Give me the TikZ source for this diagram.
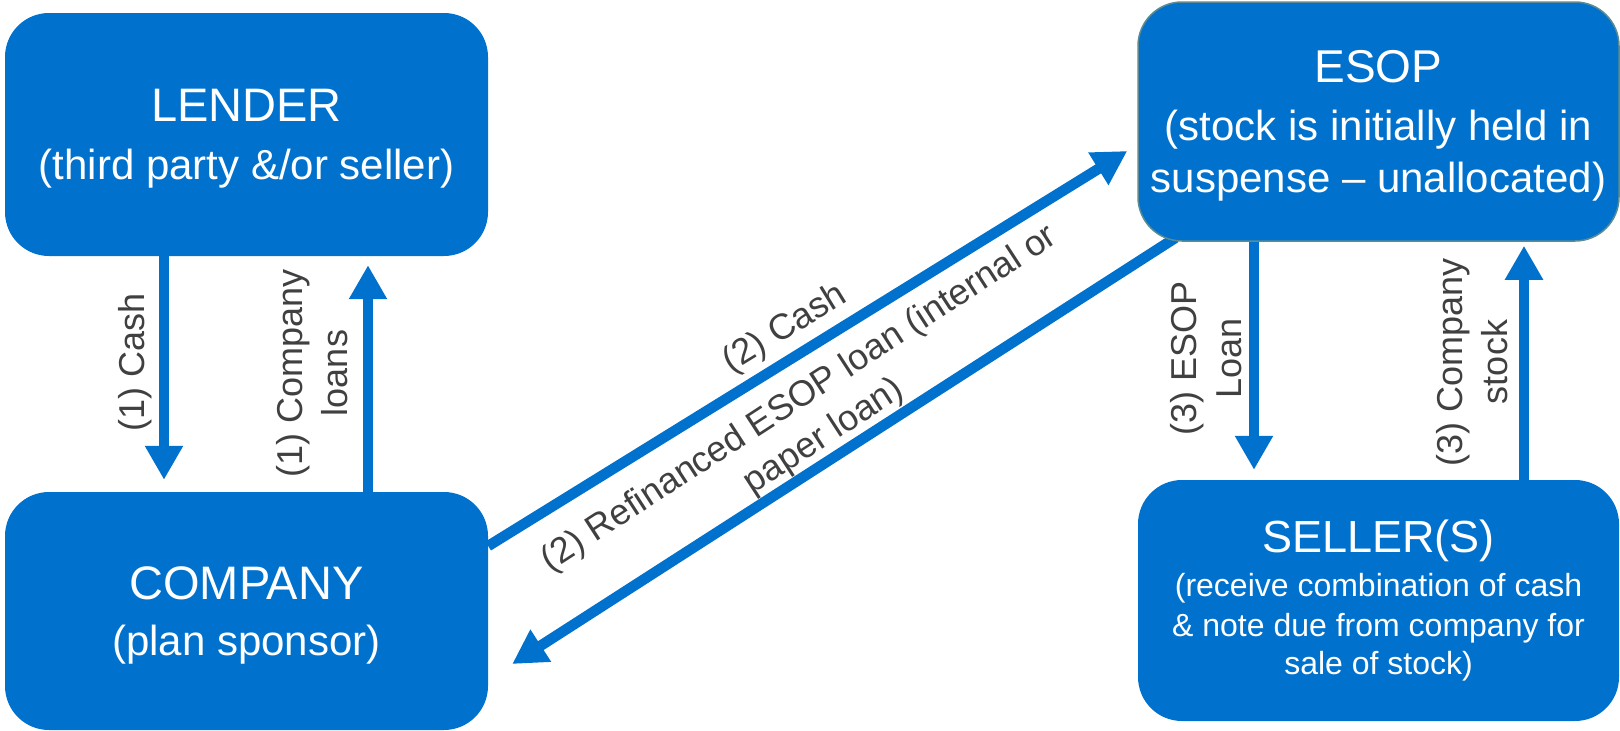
\documentclass[tikz,border=0pt]{standalone}
\usepackage{fontspec}
\setmainfont{Liberation Sans}
\usetikzlibrary{arrows.meta,backgrounds}
\definecolor{esopblue}{RGB}{0,114,206}
\definecolor{labelgray}{RGB}{64,64,64}
\definecolor{esopedge}{RGB}{90,140,145}
\begin{document}
\begin{tikzpicture}[x=1pt,y=-1pt,
  box/.style={rectangle, rounded corners=44pt, fill=esopblue, draw=none, text=white, align=center, inner sep=0pt},
  flow/.style={draw=esopblue, line width=10.5pt, -{Triangle[width=36pt,length=34pt]}},
  lab/.style={text=labelgray, font=\fontsize{36}{45}\selectfont, align=center, inner sep=0pt},
]
\useasboundingbox (0,0) rectangle (1620,731);

\node[box, text depth=0pt, minimum width=483pt, minimum height=243pt, font=\fontsize{42}{52}\selectfont]
  (lender) at (246.5,134.5) {{\fontsize{47}{52}\selectfont LENDER}\\[6pt](third party \&/or seller)};
\node[box, text depth=0pt, minimum width=483pt, minimum height=238pt, font=\fontsize{42}{52}\selectfont]
  (company) at (246.5,611) {{\fontsize{47}{52}\selectfont COMPANY}\\[4pt](plan sponsor)};
\node[box, text depth=0pt, draw=esopedge, line width=1.5pt, minimum width=481pt, minimum height=239pt, font=\fontsize{42}{52}\selectfont]
  (esop) at (1378.5,121.5) {{\fontsize{46}{52}\selectfont ESOP}\\[6pt](stock is initially held in\\suspense – unallocated)};
\node[box, minimum width=481pt, minimum height=241pt, font=\fontsize{32}{39}\selectfont]
  (seller) at (1378.5,600.5) {{\fontsize{45}{50}\selectfont SELLER(S)}\\[6pt](receive combination of cash\\\& note due from company for\\sale of stock)};

\coordinate (xa) at (164,0);
\coordinate (xb) at (368,0);
\coordinate (xc) at (1254,0);
\coordinate (xd) at (1524,0);

\begin{scope}[on background layer]
\draw[flow, shorten >=12pt] (xa |- lender.south) -- (xa |- company.north);
\draw[flow, shorten >=9pt] (xb |- company.north) -- (xb |- lender.south);
\draw[flow, shorten >=10pt] (xc |- esop.south) -- (xc |- seller.north);
\draw[flow, shorten >=4pt] (xd |- seller.north) -- (xd |- esop.south);
\draw[flow] ([yshift=65pt]company.east) -- ([xshift=-10pt,yshift=-29.5pt]esop.west);
\draw[flow] ([xshift=-203pt,yshift=4pt]esop.south) -- ([xshift=24pt,yshift=-53pt]company.east);
\end{scope}

\node[lab, rotate=90] (l1) at (135,362) {(1) Cash};
\node[lab, rotate=90] (l2) at (312,373) {(1) Company\\loans};
\node[lab, rotate=90] (l3) at (1206,358) {(3) ESOP\\Loan};
\node[lab, rotate=90] (l4) at (1472,362) {(3) Company\\stock};
\node[lab, rotate=31.6] (l5) at (785,329) {(2) Cash};
\node[lab, rotate=33] (l6) at (812,418) {(2) Refinanced ESOP loan (internal or\\paper loan)};
\end{tikzpicture}
\end{document}
